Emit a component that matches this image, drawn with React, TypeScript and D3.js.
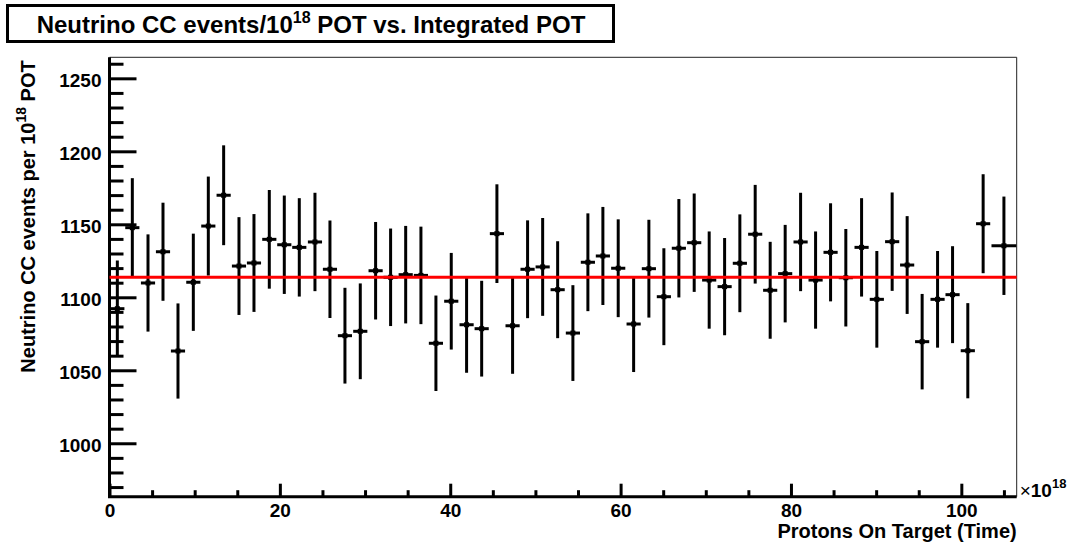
import React, { useEffect, useRef } from "react";
import * as d3 from "d3";

// bin centres (x 10^18 POT) and values
const binCenters = [
  0.92, 2.68, 4.52, 6.28, 8.04, 9.84, 11.6, 13.4, 15.2, 16.96,
  18.76, 20.52, 22.28, 24.12, 25.88, 27.64, 29.44, 31.24, 33.0, 34.77,
  36.56, 38.32, 40.12, 41.92, 43.69, 45.48, 47.32, 49.08, 50.85, 52.61,
  54.4, 56.16, 57.92, 59.72, 61.53, 63.32, 65.08, 66.84, 68.64, 70.4,
  72.21, 74.0, 75.8, 77.56, 79.32, 81.13, 82.89, 84.65, 86.44, 88.29,
  90.08, 91.88, 93.64, 95.4, 97.21, 98.97, 100.76, 102.56, 105.0,
];
const binHalfWidths = [
  0.89, 0.89, 0.89, 0.89, 0.89, 0.89, 0.89, 0.89, 0.89, 0.89,
  0.89, 0.89, 0.89, 0.89, 0.89, 0.89, 0.89, 0.89, 0.89, 0.89,
  0.89, 0.89, 0.89, 0.89, 0.89, 0.89, 0.89, 0.89, 0.89, 0.89,
  0.89, 0.89, 0.89, 0.89, 0.89, 0.89, 0.89, 0.89, 0.89, 0.89,
  0.89, 0.89, 0.89, 0.89, 0.89, 0.89, 0.89, 0.89, 0.89, 0.89,
  0.89, 0.89, 0.89, 0.89, 0.89, 0.89, 0.89, 0.89, 1.52,
];
const eventsPerPOT = [
  1092.2, 1147.7, 1109.8, 1131.2, 1063.2, 1110.3, 1148.8, 1169.9, 1121.4, 1123.5,
  1139.7, 1136.0, 1134.2, 1137.9, 1119.2, 1073.7, 1076.7, 1118.2, 1113.7, 1115.5,
  1115.0, 1068.5, 1097.3, 1081.2, 1078.5, 1143.6, 1080.5, 1119.2, 1120.8, 1105.2,
  1075.5, 1124.0, 1128.3, 1119.9, 1081.7, 1119.6, 1100.4, 1133.6, 1137.4, 1111.8,
  1107.3, 1123.3, 1143.2, 1104.8, 1116.2, 1137.9, 1111.8, 1130.8, 1113.4, 1134.2,
  1098.6, 1138.1, 1122.1, 1069.6, 1098.6, 1101.8, 1063.4, 1150.4, 1135.3,
];
const eventErrors = [
  33.0, 33.9, 33.3, 33.6, 32.6, 33.3, 33.9, 34.2, 33.5, 33.5,
  33.8, 33.7, 33.7, 33.7, 33.4, 32.8, 32.8, 33.4, 33.4, 33.4,
  33.4, 32.7, 33.1, 32.9, 32.8, 33.8, 32.9, 33.5, 33.5, 33.2,
  32.8, 33.5, 33.6, 33.5, 32.9, 33.5, 33.2, 33.7, 33.7, 33.3,
  33.3, 33.5, 33.8, 33.2, 33.4, 33.7, 33.3, 33.6, 33.4, 33.7,
  33.1, 33.7, 33.5, 32.7, 33.1, 33.2, 32.6, 33.9, 33.7,
];
const fitValue = 1113.7;

const xDomain = [0, 106.5];
const yDomain = [963.4, 1264.4];
const xMajorTicks = [0, 20, 40, 60, 80, 100];
const xMinorTicks = [5, 10, 15, 25, 30, 35, 45, 50, 55, 65, 70, 75, 85, 90, 95, 105];
const yMajorTicks = [1000, 1050, 1100, 1150, 1200, 1250];
const yMinorTicks = [
  970, 980, 990, 1010, 1020, 1030, 1040, 1060, 1070, 1080, 1090,
  1110, 1120, 1130, 1140, 1160, 1170, 1180, 1190, 1210, 1220, 1230, 1240, 1260,
];

const FONT = "'Liberation Sans', Arial, sans-serif";

export default function App() {
  const ref = useRef<SVGSVGElement>(null);

  useEffect(() => {
    const svg = d3.select(ref.current);
    svg.selectAll("*").remove();

    const x = d3.scaleLinear().domain(xDomain).range([109.5, 1016.7]);
    const y = d3.scaleLinear().domain(yDomain).range([496.7, 57.3]);
    const x0 = x(xDomain[0]);
    const x1 = x(xDomain[1]);
    const y0 = y(yDomain[0]);
    const y1 = y(yDomain[1]);

    // thin frame (top + right)
    svg.append("path")
      .attr("d", `M${x0},${y1}H${x1}V${y0}`)
      .attr("fill", "none")
      .attr("stroke", "#222")
      .attr("stroke-width", 1);

    // y ticks (inward)
    const tickStyle = (g: any) => {
      g.select(".domain").remove();
      g.selectAll("line").attr("stroke", "#000").attr("stroke-width", 3);
    };
    svg.append("g")
      .attr("transform", `translate(${x0},0)`)
      .call(d3.axisRight(y).tickValues(yMinorTicks).tickSize(14).tickFormat(() => ""))
      .call(tickStyle);
    svg.append("g")
      .attr("transform", `translate(${x0},0)`)
      .call(d3.axisRight(y).tickValues(yMajorTicks).tickSize(27).tickFormat(() => ""))
      .call(tickStyle);
    const yLab = svg.append("g")
      .attr("transform", `translate(${x0},0)`)
      .call(d3.axisLeft(y).tickValues(yMajorTicks).tickSize(0).tickPadding(8).tickFormat(d3.format("d")));
    yLab.select(".domain").remove();
    yLab.selectAll("text")
      .attr("dy", "0.45em")
      .attr("font-family", FONT)
      .attr("font-weight", "bold")
      .attr("font-size", 19)
      .attr("fill", "#000");

    // x ticks (inward)
    svg.append("g")
      .attr("transform", `translate(0,${y0})`)
      .call(d3.axisTop(x).tickValues(xMinorTicks).tickSize(6.5).tickFormat(() => ""))
      .call(tickStyle);
    svg.append("g")
      .attr("transform", `translate(0,${y0})`)
      .call(d3.axisTop(x).tickValues(xMajorTicks).tickSize(13).tickFormat(() => ""))
      .call(tickStyle);
    const xLab = svg.append("g")
      .attr("transform", `translate(0,${y0})`)
      .call(d3.axisBottom(x).tickValues(xMajorTicks).tickSize(0).tickPadding(6.5).tickFormat(d3.format("d")));
    xLab.select(".domain").remove();
    xLab.selectAll("text")
      .attr("font-family", FONT)
      .attr("font-weight", "bold")
      .attr("font-size", 19)
      .attr("fill", "#000");

    // axis lines
    svg.append("path")
      .attr("d", `M${x0},${y1}V${y0}H${x1}`)
      .attr("fill", "none")
      .attr("stroke", "#000")
      .attr("stroke-width", 3);

    // data points with error bars
    const pts = svg.append("g");
    eventsPerPOT.forEach((v, i) => {
      const cx = x(binCenters[i]);
      const cy = y(v);
      pts.append("line")
        .attr("x1", cx).attr("x2", cx)
        .attr("y1", y(v - eventErrors[i])).attr("y2", y(v + eventErrors[i]))
        .attr("stroke", "#000").attr("stroke-width", 3);
      pts.append("line")
        .attr("x1", Math.max(x0, x(binCenters[i] - binHalfWidths[i]) + 0.5))
        .attr("x2", Math.min(x1, x(binCenters[i] + binHalfWidths[i]) - 0.5))
        .attr("y1", cy).attr("y2", cy)
        .attr("stroke", "#000").attr("stroke-width", 3);
      pts.append("rect")
        .attr("x", cx - 2.5).attr("y", cy - 2.5)
        .attr("width", 5).attr("height", 5)
        .attr("fill", "#000");
    });

    // fit line
    svg.append("line")
      .attr("x1", x0).attr("x2", x1)
      .attr("y1", y(fitValue)).attr("y2", y(fitValue))
      .attr("stroke", "#ff0000")
      .attr("stroke-width", 3);

    // x10^18 exponent label
    const exp = svg.append("text")
      .attr("x", x1 + 3)
      .attr("y", y0)
      .attr("font-family", FONT)
      .attr("font-size", 19)
      .attr("fill", "#000");
    exp.append("tspan").text("\u00d7");
    exp.append("tspan").attr("font-weight", "bold").text("10");
    exp.append("tspan").attr("font-weight", "bold").attr("font-size", 13).attr("dy", -9).text("18");

    // x axis title
    svg.append("text")
      .attr("x", x1)
      .attr("y", 538)
      .attr("text-anchor", "end")
      .attr("font-family", FONT)
      .attr("font-weight", "bold")
      .attr("font-size", 20)
      .attr("fill", "#000")
      .text("Protons On Target (Time)");

    // y axis title
    const yt = svg.append("text")
      .attr("transform", `translate(35,${y1 + 3}) rotate(-90)`)
      .attr("text-anchor", "end")
      .attr("font-family", FONT)
      .attr("font-weight", "bold")
      .attr("font-size", 20)
      .attr("fill", "#000");
    yt.append("tspan").text("Neutrino CC events per 10");
    yt.append("tspan").attr("font-size", 14).attr("dy", -9).text("18");
    yt.append("tspan").attr("dy", 9).text(" POT");

    // title box
    svg.append("rect")
      .attr("x", 7.5).attr("y", 5.5)
      .attr("width", 606).attr("height", 36)
      .attr("fill", "#fff")
      .attr("stroke", "#000")
      .attr("stroke-width", 3);
    const tt = svg.append("text")
      .attr("x", 311)
      .attr("y", 32.7)
      .attr("text-anchor", "middle")
      .attr("font-family", FONT)
      .attr("font-weight", "bold")
      .attr("font-size", 24)
      .attr("fill", "#000");
    tt.append("tspan").text("Neutrino CC events/10");
    tt.append("tspan").attr("font-size", 16).attr("dy", -10).text("18");
    tt.append("tspan").attr("dy", 10).text(" POT vs. Integrated POT");
  }, []);

  return (
    <svg
      ref={ref}
      width={1073}
      height={542}
      style={{ position: "absolute", left: 0, top: 0, background: "#fff" }}
    />
  );
}
